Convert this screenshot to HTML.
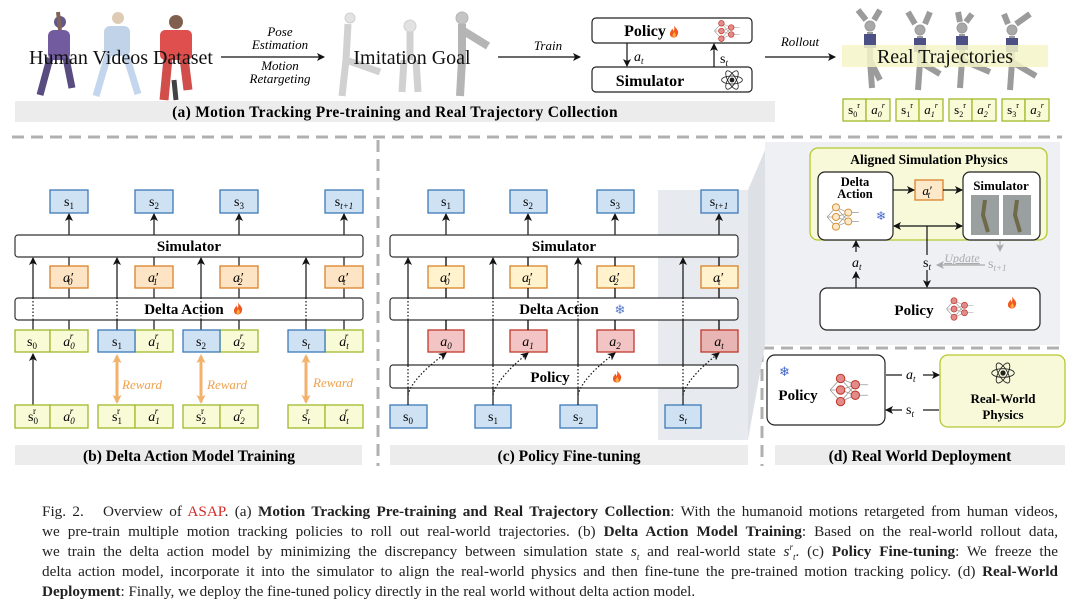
<!DOCTYPE html>
<html><head><meta charset="utf-8"><style>
body{margin:0;background:#fff;}
#w{position:relative;width:1080px;height:601px;overflow:hidden;background:#fff;}
svg{position:absolute;left:0;top:0;}
.cap{position:absolute;left:42px;width:1016px;font-family:"Liberation Serif",serif;font-size:15.2px;color:#222;line-height:20px;}
.cap div{text-align:justify;text-align-last:justify;white-space:nowrap;height:20px;line-height:20px;overflow:visible;}
.cap div.l{text-align-last:left;}
.cap sub,.cap sup{line-height:0;font-size:9px;}
b{font-weight:bold;}
</style></head><body><div id="w">
<svg width="1080" height="601" viewBox="0 0 1080 601" font-family="Liberation Serif, serif">
<defs>
<marker id="ar" markerWidth="8" markerHeight="8" refX="7" refY="4" orient="auto" markerUnits="userSpaceOnUse"><path d="M0,0 L8,4 L0,8 L2,4 z" fill="#111"/></marker>
<marker id="ao" markerWidth="9" markerHeight="9" refX="7" refY="4.5" orient="auto-start-reverse" markerUnits="userSpaceOnUse"><path d="M0,0 L9,4.5 L0,9 L2,4.5 z" fill="#f2b26c"/></marker>
<marker id="ag" markerWidth="8" markerHeight="8" refX="7" refY="4" orient="auto" markerUnits="userSpaceOnUse"><path d="M0,0 L8,4 L0,8 L2,4 z" fill="#aaa"/></marker>
<symbol id="nn" viewBox="0 0 40 34"><g stroke="#999" stroke-width="0.8" fill="none"><path d="M2,17 L12,6 M2,17 L12,17 M2,17 L12,28 M12,6 L26,12 M12,6 L26,22 M12,17 L26,12 M12,17 L26,22 M12,28 L26,12 M12,28 L26,22 M26,12 L38,12 M26,22 L38,22"/></g><g fill="#e38b8b" stroke="#c0392b" stroke-width="1"><circle cx="12" cy="6" r="4"/><circle cx="12" cy="17" r="4"/><circle cx="12" cy="28" r="4"/><circle cx="26" cy="12" r="4"/><circle cx="26" cy="22" r="4"/></g></symbol>
<symbol id="nno" viewBox="0 0 40 34"><g stroke="#999" stroke-width="0.8" fill="none"><path d="M2,17 L12,6 M2,17 L12,17 M2,17 L12,28 M12,6 L26,12 M12,6 L26,22 M12,17 L26,12 M12,17 L26,22 M12,28 L26,12 M12,28 L26,22 M26,12 L38,12 M26,22 L38,22"/></g><g fill="#fde9c9" stroke="#d08a2a" stroke-width="1"><circle cx="12" cy="6" r="4"/><circle cx="12" cy="17" r="4"/><circle cx="12" cy="28" r="4"/><circle cx="26" cy="12" r="4"/><circle cx="26" cy="22" r="4"/></g></symbol>
<symbol id="atom" viewBox="0 0 30 30"><g fill="none" stroke="#222" stroke-width="1"><ellipse cx="15" cy="15" rx="13" ry="5"/><ellipse cx="15" cy="15" rx="13" ry="5" transform="rotate(60 15 15)"/><ellipse cx="15" cy="15" rx="13" ry="5" transform="rotate(-60 15 15)"/></g><circle cx="15" cy="15" r="3" fill="#222"/></symbol>
<symbol id="fire" viewBox="0 0 10 12"><path d="M5,0 C7,3 10,5 9,8 C8.5,11 6.5,12 5,12 C2.5,12 0.5,10.5 1,7.5 C1.5,5 3,5 3,3 C4,4 4.5,5 4.5,6 C5.5,4 5.5,2 5,0z" fill="#f05a22"/><path d="M5,6 C6,8 7.5,9 6.5,11 C5.5,12 3.5,11.5 3.5,10 C3.5,8.5 5,8 5,6z" fill="#fbb040"/></symbol>
</defs>

<g opacity="0.85">
<g fill="#4b3a7a"><circle cx="60" cy="22" r="6"/><rect x="48" y="30" width="22" height="30" rx="6" fill="#5b3f8f"/><path d="M50,58 L40,95 M66,58 L72,88" stroke="#3b2d6a" stroke-width="7"/><path d="M60,30 L58,12" stroke="#6b4a3a" stroke-width="4"/></g>
<g><circle cx="118" cy="18" r="6" fill="#d9c2a8"/><rect x="104" y="26" width="26" height="30" rx="6" fill="#b7cce4"/><path d="M108,55 L96,96 M126,55 L138,94" stroke="#b9d0ea" stroke-width="7"/></g>
<g><circle cx="176" cy="22" r="7" fill="#6b4430"/><rect x="160" y="30" width="32" height="30" rx="5" fill="#d9312f"/><path d="M168,58 L164,100 M184,58 L188,90" stroke="#c9302c" stroke-width="9"/><path d="M174,80 L176,100" stroke="#222" stroke-width="5"/></g>
<g stroke="#c9c9c9" fill="#ddd"><circle cx="350" cy="18" r="5"/><path d="M348,24 L346,60 L342,96 M346,60 L380,72" stroke-width="7" fill="none"/></g>
<g stroke="#c9c9c9" fill="#ddd"><circle cx="410" cy="26" r="6"/><path d="M410,32 L410,60 M404,60 L402,92 M416,60 L418,92" stroke-width="7" fill="none"/></g>
<g stroke="#a9a9a9" fill="#bbb"><circle cx="462" cy="18" r="6"/><path d="M462,24 L462,60 L460,96 M462,30 L488,46" stroke-width="8" fill="none"/></g>
<g stroke="#8a8a8a" fill="#999"><circle cx="870" cy="26" r="5"/><path d="M866,20 L858,10 M874,20 L880,10 M870,32 L870,60 L872,88 M870,60 L880,80" stroke-width="6" fill="none"/><rect x="864" y="34" width="12" height="14" fill="#2d3270" stroke="none"/></g>
<g stroke="#8a8a8a" fill="#999"><circle cx="920" cy="30" r="5"/><path d="M915,24 L908,12 M925,24 L930,12 M920,36 L920,62 L918,90 M920,62 L940,74" stroke-width="6" fill="none"/><rect x="914" y="38" width="12" height="14" fill="#2d3270" stroke="none"/></g>
<g stroke="#8a8a8a" fill="#999"><circle cx="962" cy="28" r="5"/><path d="M960,22 L958,12 M966,22 L972,14 M962,34 L962,60 L960,88 M962,60 L990,72" stroke-width="6" fill="none"/><rect x="956" y="36" width="12" height="14" fill="#2d3270" stroke="none"/></g>
<g stroke="#8a8a8a" fill="#999"><circle cx="1012" cy="30" r="5"/><path d="M1016,24 L1030,14 M1008,24 L1004,14 M1012,36 L1012,62 L1010,90 M1012,62 L1036,76" stroke-width="6" fill="none"/><rect x="1006" y="38" width="12" height="14" fill="#2d3270" stroke="none"/></g>
</g>
<text x="121" y="64" font-size="20" text-anchor="middle" fill="#111">Human Videos Dataset</text>
<line x1="221" y1="57" x2="324" y2="57" stroke="#111" stroke-width="1.3" marker-end="url(#ar)"/>
<text x="280" y="36" font-size="13" font-style="italic" text-anchor="middle">Pose</text>
<text x="280" y="49" font-size="13" font-style="italic" text-anchor="middle">Estimation</text>
<text x="280" y="70" font-size="13" font-style="italic" text-anchor="middle">Motion</text>
<text x="280" y="83" font-size="13" font-style="italic" text-anchor="middle">Retargeting</text>
<text x="412" y="64" font-size="20" text-anchor="middle" fill="#111">Imitation Goal</text>
<line x1="498" y1="57" x2="580" y2="57" stroke="#111" stroke-width="1.3" marker-end="url(#ar)"/>
<text x="548" y="50" font-size="13" font-style="italic" text-anchor="middle">Train</text>
<rect x="592" y="18" width="160" height="25" rx="4" fill="#fff" stroke="#222" stroke-width="1.2"/>
<text x="645" y="36" font-size="16" font-weight="bold" text-anchor="middle">Policy</text>
<use href="#fire" x="669" y="25" width="10" height="13"/>
<use href="#nn" x="713" y="19" width="28" height="24"/>
<rect x="592" y="67" width="160" height="25" rx="4" fill="#fff" stroke="#222" stroke-width="1.2"/>
<text x="650" y="86" font-size="16" font-weight="bold" text-anchor="middle">Simulator</text>
<use href="#atom" x="720" y="68" width="24" height="24"/>
<line x1="627" y1="43" x2="627" y2="66" stroke="#111" stroke-width="1.2" marker-end="url(#ar)"/>
<text x="634" y="61" font-size="14" font-style="italic">a<tspan font-size="9" dy="3">t</tspan></text>
<line x1="714" y1="67" x2="714" y2="44" stroke="#111" stroke-width="1.2" marker-end="url(#ar)"/>
<text x="720" y="63" font-size="14">s<tspan font-size="9" dy="3" font-style="italic">t</tspan></text>
<line x1="765" y1="57" x2="835" y2="57" stroke="#111" stroke-width="1.3" marker-end="url(#ar)"/>
<text x="800" y="46" font-size="13" font-style="italic" text-anchor="middle">Rollout</text>
<rect x="842" y="45" width="206" height="22" fill="#f4f5c8" opacity="0.85"/>
<text x="945" y="63" font-size="20" text-anchor="middle" fill="#111">Real Trajectories</text>
<g font-size="13" text-anchor="middle">
<g fill="#f8fbd5" stroke="#9fba2a" stroke-width="1.3">
<rect x="843" y="99" width="23" height="22"/><rect x="866" y="99" width="24" height="22"/>
<rect x="896" y="99" width="23" height="22"/><rect x="919" y="99" width="24" height="22"/>
<rect x="949" y="99" width="23" height="22"/><rect x="972" y="99" width="24" height="22"/>
<rect x="1002" y="99" width="23" height="22"/><rect x="1025" y="99" width="24" height="22"/></g>
<text x="854" y="114">s<tspan font-size="8" dy="3">0</tspan><tspan font-size="8" dy="-9">r</tspan></text>
<text x="878" y="114" font-style="italic">a<tspan font-size="8" dy="3">0</tspan><tspan font-size="8" dy="-9">r</tspan></text>
<text x="907" y="114">s<tspan font-size="8" dy="3">1</tspan><tspan font-size="8" dy="-9">r</tspan></text>
<text x="931" y="114" font-style="italic">a<tspan font-size="8" dy="3">1</tspan><tspan font-size="8" dy="-9">r</tspan></text>
<text x="960" y="114">s<tspan font-size="8" dy="3">2</tspan><tspan font-size="8" dy="-9">r</tspan></text>
<text x="984" y="114" font-style="italic">a<tspan font-size="8" dy="3">2</tspan><tspan font-size="8" dy="-9">r</tspan></text>
<text x="1013" y="114">s<tspan font-size="8" dy="3">3</tspan><tspan font-size="8" dy="-9">r</tspan></text>
<text x="1037" y="114" font-style="italic">a<tspan font-size="8" dy="3">3</tspan><tspan font-size="8" dy="-9">r</tspan></text>
</g>
<rect x="15" y="101" width="760" height="21" fill="#ececec"/>
<text x="395" y="117" font-size="15.5" font-weight="bold" text-anchor="middle" letter-spacing="0.3">(a) Motion Tracking Pre-training and Real Trajectory Collection</text>

<g stroke="#b0b0b0" stroke-width="3" stroke-dasharray="12,7" fill="none">
<line x1="12" y1="137" x2="1062" y2="137"/>
<line x1="378" y1="140" x2="378" y2="466"/>
<line x1="762" y1="348" x2="1062" y2="348"/>
<line x1="762" y1="350" x2="762" y2="466"/>
</g>
<rect x="658" y="190" width="90" height="250" fill="#e7eaee"/>
<path d="M748,190 L765,150 L765,345 L748,440 z" fill="#dde1e6"/>
<rect x="765" y="142" width="295" height="203" fill="#eef0f3"/>

<g font-size="14" text-anchor="middle">
<g fill="#cfe2f3" stroke="#3d7ab8" stroke-width="1.3">
<rect x="50" y="190" width="38" height="23"/><rect x="135" y="190" width="38" height="23"/><rect x="220" y="190" width="38" height="23"/><rect x="325" y="190" width="38" height="23"/></g>
<text x="69" y="206">s<tspan font-size="9" dy="3">1</tspan></text>
<text x="154" y="206">s<tspan font-size="9" dy="3">2</tspan></text>
<text x="239" y="206">s<tspan font-size="9" dy="3">3</tspan></text>
<text x="344" y="206">s<tspan font-size="9" dy="3" font-style="italic">t+1</tspan></text>
<g stroke="#111" stroke-width="1.2">
<line x1="69" y1="235" x2="69" y2="214" marker-end="url(#ar)"/><line x1="154" y1="235" x2="154" y2="214" marker-end="url(#ar)"/><line x1="239" y1="235" x2="239" y2="214" marker-end="url(#ar)"/><line x1="344" y1="235" x2="344" y2="214" marker-end="url(#ar)"/>
<line x1="69" y1="330" x2="69" y2="257"/><line x1="154" y1="330" x2="154" y2="257"/><line x1="239" y1="330" x2="239" y2="257"/><line x1="344" y1="330" x2="344" y2="257"/>
</g>
<rect x="15" y="235" width="348" height="22" rx="3" fill="#fff" stroke="#333" stroke-width="1.2"/>
<text x="189" y="251" font-size="15" font-weight="bold">Simulator</text>
<rect x="15" y="298" width="348" height="22" rx="3" fill="#fff" stroke="#333" stroke-width="1.2"/>
<text x="184" y="314" font-size="15" font-weight="bold">Delta Action</text>
<use href="#fire" x="233" y="302" width="10" height="13"/>
<g fill="#fde4c4" stroke="#d9822b" stroke-width="1.3">
<rect x="50" y="266" width="38" height="22"/><rect x="135" y="266" width="38" height="22"/><rect x="220" y="266" width="38" height="22"/><rect x="325" y="266" width="38" height="22"/></g>
<g font-style="italic">
<text x="68" y="282">a′<tspan font-size="9" dx="-5" dy="3">0</tspan></text>
<text x="153" y="282">a′<tspan font-size="9" dx="-5" dy="3">1</tspan></text>
<text x="238" y="282">a′<tspan font-size="9" dx="-5" dy="3">2</tspan></text>
<text x="343" y="282">a′<tspan font-size="9" dx="-5" dy="3">t</tspan></text></g>
<g stroke="#111" stroke-width="1.2">
<line x1="33" y1="330" x2="33" y2="320"/><line x1="33" y1="320" x2="33" y2="298" stroke-dasharray="1.5,2"/><line x1="33" y1="298" x2="33" y2="258" marker-end="url(#ar)"/>
<line x1="117" y1="330" x2="117" y2="320"/><line x1="117" y1="320" x2="117" y2="298" stroke-dasharray="1.5,2"/><line x1="117" y1="298" x2="117" y2="258" marker-end="url(#ar)"/>
<line x1="201" y1="330" x2="201" y2="320"/><line x1="201" y1="320" x2="201" y2="298" stroke-dasharray="1.5,2"/><line x1="201" y1="298" x2="201" y2="258" marker-end="url(#ar)"/>
<line x1="306" y1="330" x2="306" y2="320"/><line x1="306" y1="320" x2="306" y2="298" stroke-dasharray="1.5,2"/><line x1="306" y1="298" x2="306" y2="258" marker-end="url(#ar)"/>
<line x1="33" y1="405" x2="33" y2="354" marker-end="url(#ar)"/>
</g>
<g fill="#f8fbd5" stroke="#9fba2a" stroke-width="1.3">
<rect x="15" y="330" width="35" height="22"/><rect x="50" y="330" width="38" height="22"/>
<rect x="135" y="330" width="38" height="22"/><rect x="220" y="330" width="38" height="22"/><rect x="325" y="330" width="38" height="22"/>
<rect x="15" y="405" width="35" height="23"/><rect x="50" y="405" width="38" height="23"/>
<rect x="98" y="405" width="37" height="23"/><rect x="135" y="405" width="38" height="23"/>
<rect x="183" y="405" width="37" height="23"/><rect x="220" y="405" width="38" height="23"/>
<rect x="288" y="405" width="37" height="23"/><rect x="325" y="405" width="38" height="23"/></g>
<g fill="#cfe2f3" stroke="#3d7ab8" stroke-width="1.3">
<rect x="98" y="330" width="37" height="22"/><rect x="183" y="330" width="37" height="22"/><rect x="288" y="330" width="37" height="22"/></g>
<text x="32" y="346">s<tspan font-size="9" dy="3">0</tspan></text>
<text x="117" y="346">s<tspan font-size="9" dy="3">1</tspan></text>
<text x="201" y="346">s<tspan font-size="9" dy="3">2</tspan></text>
<text x="306" y="346">s<tspan font-size="9" dy="3" font-style="italic">t</tspan></text>
<g font-style="italic">
<text x="69" y="346">a<tspan font-size="9" dy="3">0</tspan><tspan font-size="9" dx="-5" dy="-10">r</tspan></text>
<text x="154" y="346">a<tspan font-size="9" dy="3">1</tspan><tspan font-size="9" dx="-5" dy="-10">r</tspan></text>
<text x="239" y="346">a<tspan font-size="9" dy="3">2</tspan><tspan font-size="9" dx="-5" dy="-10">r</tspan></text>
<text x="344" y="346">a<tspan font-size="9" dy="3">t</tspan><tspan font-size="9" dx="-4" dy="-10">r</tspan></text>
<text x="69" y="421">a<tspan font-size="9" dy="3">0</tspan><tspan font-size="9" dx="-5" dy="-10">r</tspan></text>
<text x="154" y="421">a<tspan font-size="9" dy="3">1</tspan><tspan font-size="9" dx="-5" dy="-10">r</tspan></text>
<text x="239" y="421">a<tspan font-size="9" dy="3">2</tspan><tspan font-size="9" dx="-5" dy="-10">r</tspan></text>
<text x="344" y="421">a<tspan font-size="9" dy="3">t</tspan><tspan font-size="9" dx="-4" dy="-10">r</tspan></text></g>
<text x="33" y="421">s<tspan font-size="9" dy="3">0</tspan><tspan font-size="9" dx="-5" dy="-10">r</tspan></text>
<text x="117" y="421">s<tspan font-size="9" dy="3">1</tspan><tspan font-size="9" dx="-5" dy="-10">r</tspan></text>
<text x="201" y="421">s<tspan font-size="9" dy="3">2</tspan><tspan font-size="9" dx="-5" dy="-10">r</tspan></text>
<text x="306" y="421">s<tspan font-size="9" dy="3" font-style="italic">t</tspan><tspan font-size="9" dx="-4" dy="-10">r</tspan></text>
<g stroke="#f2b26c" stroke-width="3">
<line x1="117" y1="356" x2="117" y2="402" marker-end="url(#ao)" marker-start="url(#ao)"/>
<line x1="201" y1="356" x2="201" y2="402" marker-end="url(#ao)" marker-start="url(#ao)"/>
<line x1="306" y1="356" x2="306" y2="402" marker-end="url(#ao)" marker-start="url(#ao)"/></g>
<g fill="#f0a04b" font-style="italic" font-size="13" text-anchor="start">
<text x="122" y="389">Reward</text><text x="207" y="389">Reward</text><text x="313" y="387">Reward</text></g>
</g>
<rect x="15" y="445" width="347" height="20" fill="#ececec"/>
<text x="189" y="461" font-size="15.5" font-weight="bold" text-anchor="middle">(b) Delta Action Model Training</text>

<g font-size="14" text-anchor="middle">
<g stroke="#111" stroke-width="1.2">
<line x1="446" y1="235" x2="446" y2="214" marker-end="url(#ar)"/><line x1="528" y1="235" x2="528" y2="214" marker-end="url(#ar)"/><line x1="615" y1="235" x2="615" y2="214" marker-end="url(#ar)"/><line x1="719" y1="235" x2="719" y2="214" marker-end="url(#ar)"/>
<line x1="446" y1="330" x2="446" y2="257"/><line x1="528" y1="330" x2="528" y2="257"/><line x1="615" y1="330" x2="615" y2="257"/><line x1="719" y1="330" x2="719" y2="257"/>
</g>
<g fill="#cfe2f3" stroke="#3d7ab8" stroke-width="1.3">
<rect x="428" y="190" width="36" height="23"/><rect x="510" y="190" width="37" height="23"/><rect x="597" y="190" width="37" height="23"/><rect x="701" y="190" width="37" height="23"/>
<rect x="390" y="405" width="37" height="23"/><rect x="475" y="405" width="36" height="23"/><rect x="560" y="405" width="37" height="23"/><rect x="665" y="405" width="36" height="23"/></g>
<text x="446" y="206">s<tspan font-size="9" dy="3">1</tspan></text>
<text x="528" y="206">s<tspan font-size="9" dy="3">2</tspan></text>
<text x="615" y="206">s<tspan font-size="9" dy="3">3</tspan></text>
<text x="719" y="206">s<tspan font-size="9" dy="3" font-style="italic">t+1</tspan></text>
<text x="408" y="421">s<tspan font-size="9" dy="3">0</tspan></text>
<text x="493" y="421">s<tspan font-size="9" dy="3">1</tspan></text>
<text x="578" y="421">s<tspan font-size="9" dy="3">2</tspan></text>
<text x="683" y="421">s<tspan font-size="9" dy="3" font-style="italic">t</tspan></text>
<rect x="390" y="235" width="348" height="22" rx="3" fill="#fff" stroke="#333" stroke-width="1.2"/>
<text x="564" y="251" font-size="15" font-weight="bold">Simulator</text>
<rect x="390" y="298" width="348" height="22" rx="3" fill="#fff" stroke="#333" stroke-width="1.2"/>
<text x="559" y="314" font-size="15" font-weight="bold">Delta Action</text>
<text x="620" y="314" font-size="13" fill="#5577cc">❄</text>
<rect x="390" y="365" width="348" height="23" rx="3" fill="#fff" stroke="#333" stroke-width="1.2"/>
<text x="550" y="382" font-size="15" font-weight="bold">Policy</text>
<use href="#fire" x="612" y="370" width="10" height="13"/>
<g fill="#fff2cc" stroke="#d9822b" stroke-width="1.3">
<rect x="428" y="266" width="36" height="22"/><rect x="510" y="266" width="37" height="22"/><rect x="597" y="266" width="37" height="22"/><rect x="701" y="266" width="37" height="22"/></g>
<g fill="#f2c4c4" stroke="#c0392b" stroke-width="1.3">
<rect x="428" y="330" width="36" height="22"/><rect x="510" y="330" width="37" height="22"/><rect x="597" y="330" width="37" height="22"/><rect x="701" y="330" width="37" height="22" fill="#e8b4b4"/></g>
<g font-style="italic">
<text x="445" y="282">a′<tspan font-size="9" dx="-5" dy="3">0</tspan></text>
<text x="527" y="282">a′<tspan font-size="9" dx="-5" dy="3">1</tspan></text>
<text x="614" y="282">a′<tspan font-size="9" dx="-5" dy="3">2</tspan></text>
<text x="718" y="282">a′<tspan font-size="9" dx="-5" dy="3">t</tspan></text>
<text x="446" y="346">a<tspan font-size="9" dy="3">0</tspan></text>
<text x="528" y="346">a<tspan font-size="9" dy="3">1</tspan></text>
<text x="615" y="346">a<tspan font-size="9" dy="3">2</tspan></text>
<text x="719" y="346">a<tspan font-size="9" dy="3">t</tspan></text></g>
<g stroke="#111" stroke-width="1.2" fill="none">
<line x1="408" y1="405" x2="408" y2="388"/><line x1="408" y1="388" x2="408" y2="365" stroke-dasharray="1.5,2"/><line x1="408" y1="365" x2="408" y2="320"/><line x1="408" y1="320" x2="408" y2="298" stroke-dasharray="1.5,2"/><line x1="408" y1="298" x2="408" y2="258" marker-end="url(#ar)"/>
<line x1="493" y1="405" x2="493" y2="388"/><line x1="493" y1="388" x2="493" y2="365" stroke-dasharray="1.5,2"/><line x1="493" y1="365" x2="493" y2="320"/><line x1="493" y1="320" x2="493" y2="298" stroke-dasharray="1.5,2"/><line x1="493" y1="298" x2="493" y2="258" marker-end="url(#ar)"/>
<line x1="578" y1="405" x2="578" y2="388"/><line x1="578" y1="388" x2="578" y2="365" stroke-dasharray="1.5,2"/><line x1="578" y1="365" x2="578" y2="320"/><line x1="578" y1="320" x2="578" y2="298" stroke-dasharray="1.5,2"/><line x1="578" y1="298" x2="578" y2="258" marker-end="url(#ar)"/>
<line x1="683" y1="405" x2="683" y2="388"/><line x1="683" y1="388" x2="683" y2="365" stroke-dasharray="1.5,2"/><line x1="683" y1="365" x2="683" y2="320"/><line x1="683" y1="320" x2="683" y2="298" stroke-dasharray="1.5,2"/><line x1="683" y1="298" x2="683" y2="258" marker-end="url(#ar)"/>
<path d="M408,395 Q412,378 446,353" stroke-dasharray="1.5,2" marker-end="url(#ar)"/>
<path d="M493,395 Q497,378 528,353" stroke-dasharray="1.5,2" marker-end="url(#ar)"/>
<path d="M578,395 Q582,378 615,353" stroke-dasharray="1.5,2" marker-end="url(#ar)"/>
<path d="M683,395 Q687,378 719,353" stroke-dasharray="1.5,2" marker-end="url(#ar)"/>
<line x1="446" y1="330" x2="446" y2="320"/><line x1="528" y1="330" x2="528" y2="320"/><line x1="615" y1="330" x2="615" y2="320"/><line x1="719" y1="330" x2="719" y2="320"/>
<line x1="446" y1="298" x2="446" y2="288"/><line x1="528" y1="298" x2="528" y2="288"/><line x1="615" y1="298" x2="615" y2="288"/><line x1="719" y1="298" x2="719" y2="288"/>
<line x1="446" y1="266" x2="446" y2="257"/><line x1="528" y1="266" x2="528" y2="257"/><line x1="615" y1="266" x2="615" y2="257"/><line x1="719" y1="266" x2="719" y2="257"/>
</g>
</g>
<rect x="390" y="445" width="358" height="20" fill="#ececec"/>
<text x="569" y="461" font-size="15.5" font-weight="bold" text-anchor="middle">(c) Policy Fine-tuning</text>

<rect x="810" y="148" width="237" height="92" rx="8" fill="#f7f9d9" stroke="#b5c832" stroke-width="1.3"/>
<text x="929" y="164" font-size="13.5" font-weight="bold" text-anchor="middle">Aligned Simulation Physics</text>
<rect x="818" y="172" width="75" height="68" rx="7" fill="#fff" stroke="#222" stroke-width="1.2"/>
<text x="855" y="186" font-size="12.5" font-weight="bold" text-anchor="middle">Delta</text>
<text x="855" y="198" font-size="12.5" font-weight="bold" text-anchor="middle">Action</text>
<use href="#nno" x="825" y="202" width="36" height="30"/>
<text x="876" y="220" font-size="12" fill="#4466cc">❄</text>
<rect x="963" y="172" width="77" height="68" rx="7" fill="#fff" stroke="#222" stroke-width="1.2"/>
<text x="1001" y="190" font-size="13" font-weight="bold" text-anchor="middle">Simulator</text>
<rect x="971" y="195" width="28" height="40" fill="#9aa0a0"/><rect x="1003" y="195" width="28" height="40" fill="#9aa0a0"/>
<path d="M985,200 L983,215 L988,232 M1017,200 L1015,215 L1020,232" stroke="#6e6a4a" stroke-width="4" fill="none"/>
<rect x="915" y="180" width="28" height="20" fill="#fde9c9" stroke="#d9822b" stroke-width="1.3"/>
<text x="927" y="195" font-size="13" font-style="italic" text-anchor="middle">a′<tspan font-size="9" dx="-4" dy="3">t</tspan></text>
<g stroke="#111" stroke-width="1.2" fill="none">
<line x1="893" y1="190" x2="914" y2="190" marker-end="url(#ar)"/>
<line x1="943" y1="190" x2="962" y2="190" marker-end="url(#ar)"/>
<line x1="927" y1="226" x2="894" y2="226" marker-end="url(#ar)"/>
<line x1="927" y1="226" x2="962" y2="226" marker-end="url(#ar)"/>
<line x1="927" y1="226" x2="927" y2="255"/>
<line x1="927" y1="270" x2="927" y2="287" marker-end="url(#ar)"/>
<line x1="856" y1="288" x2="856" y2="272" marker-end="url(#ar)"/>
<line x1="856" y1="252" x2="856" y2="241" marker-end="url(#ar)"/>
</g>
<text x="852" y="267" font-size="14" font-style="italic">a<tspan font-size="9" dy="3">t</tspan></text>
<text x="923" y="267" font-size="14">s<tspan font-size="9" dy="3" font-style="italic">t</tspan></text>
<line x1="1000" y1="241" x2="1000" y2="251" stroke="#aaa" stroke-width="1.2" marker-end="url(#ag)"/>
<line x1="985" y1="265" x2="937" y2="265" stroke="#aaa" stroke-width="1.2" marker-end="url(#ag)"/>
<text x="962" y="262" font-size="12" font-style="italic" fill="#aaa" text-anchor="middle" text-decoration="underline">Update</text>
<text x="988" y="268" font-size="14" fill="#aaa">s<tspan font-size="9" dy="3" font-style="italic">t+1</tspan></text>
<rect x="820" y="288" width="220" height="42" rx="7" fill="#fff" stroke="#222" stroke-width="1.2"/>
<text x="914" y="315" font-size="15" font-weight="bold" text-anchor="middle">Policy</text>
<use href="#nn" x="945" y="296" width="30" height="26"/>
<use href="#fire" x="1007" y="296" width="10" height="13"/>

<rect x="767" y="355" width="118" height="70" rx="8" fill="#fff" stroke="#222" stroke-width="1.2"/>
<text x="779" y="376" font-size="13" fill="#4466cc">❄</text>
<text x="798" y="400" font-size="15" font-weight="bold" text-anchor="middle">Policy</text>
<use href="#nn" x="828" y="372" width="42" height="36"/>
<rect x="940" y="355" width="125" height="72" rx="8" fill="#f7f9d9" stroke="#b5c832" stroke-width="1.3"/>
<use href="#atom" x="990" y="360" width="26" height="26"/>
<text x="1003" y="403" font-size="13" font-weight="bold" text-anchor="middle">Real-World</text>
<text x="1003" y="419" font-size="13" font-weight="bold" text-anchor="middle">Physics</text>
<g stroke="#111" stroke-width="1.2">
<line x1="886" y1="375" x2="902" y2="375"/><line x1="923" y1="375" x2="939" y2="375" marker-end="url(#ar)"/>
<line x1="939" y1="410" x2="923" y2="410"/><line x1="902" y1="410" x2="886" y2="410" marker-end="url(#ar)"/></g>
<text x="906" y="379" font-size="14" font-style="italic">a<tspan font-size="9" dy="3">t</tspan></text>
<text x="906" y="414" font-size="14">s<tspan font-size="9" dy="3" font-style="italic">t</tspan></text>
<rect x="775" y="445" width="290" height="20" fill="#ececec"/>
<text x="920" y="461" font-size="15.5" font-weight="bold" text-anchor="middle">(d) Real World Deployment</text>
</svg>

<div class="cap" style="top:502px;">
<div>Fig. 2.&nbsp;&nbsp; Overview of <span style="color:#d42a2a">ASAP</span>. (a) <b>Motion Tracking Pre-training and Real Trajectory Collection</b>: With the humanoid motions retargeted from human videos,</div>
<div>we pre-train multiple motion tracking policies to roll out real-world trajectories. (b) <b>Delta Action Model Training</b>: Based on the real-world rollout data,</div>
<div>we train the delta action model by minimizing the discrepancy between simulation state <i>s<sub>t</sub></i> and real-world state <i>s<sup>r</sup><sub>t</sub></i>. (c) <b>Policy Fine-tuning</b>: We freeze the</div>
<div>delta action model, incorporate it into the simulator to align the real-world physics and then fine-tune the pre-trained motion tracking policy. (d) <b>Real-World</b></div>
<div class="l"><b>Deployment</b>: Finally, we deploy the fine-tuned policy directly in the real world without delta action model.</div>
</div>
</div></body></html>
